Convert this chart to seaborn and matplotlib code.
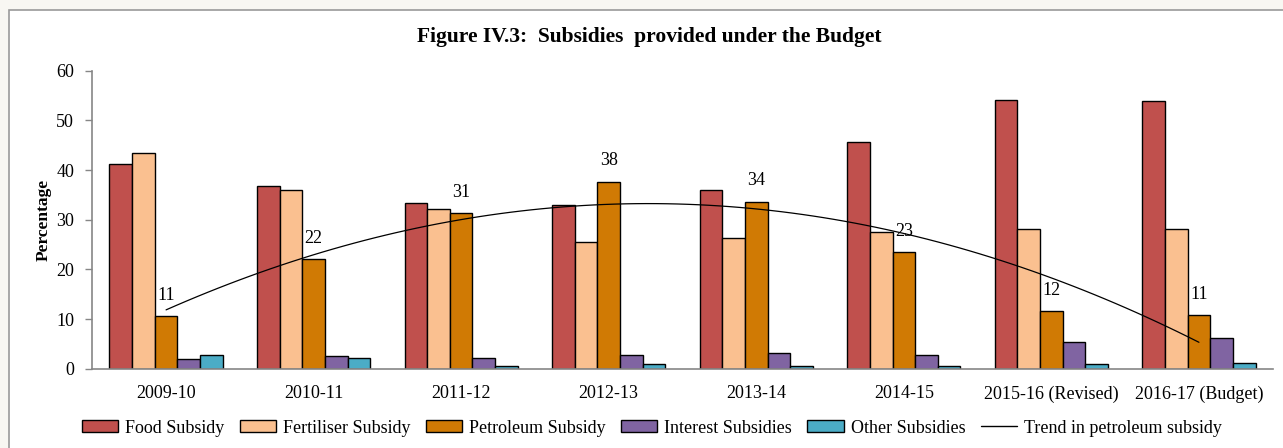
import matplotlib

matplotlib.use("Agg")

import matplotlib.pyplot as plt
import numpy as np
import pandas as pd
import seaborn as sns
from matplotlib.lines import Line2D
from matplotlib.patches import Patch, Rectangle

years = ["2009-10", "2010-11", "2011-12", "2012-13", "2013-14", "2014-15",
         "2015-16 (Revised)", "2016-17 (Budget)"]
series = ["Food Subsidy", "Fertiliser Subsidy", "Petroleum Subsidy",
          "Interest Subsidies", "Other Subsidies"]

food = [41.3, 36.8, 33.3, 33.0, 36.0, 45.6, 54.2, 54.0]
fertiliser = [43.4, 36.0, 32.2, 25.6, 26.4, 27.5, 28.1, 28.1]
petroleum = [10.6, 22.0, 31.3, 37.6, 33.6, 23.4, 11.6, 10.8]
interest = [2.0, 2.5, 2.2, 2.8, 3.1, 2.8, 5.3, 6.1]
other = [2.8, 2.2, 0.6, 0.9, 0.6, 0.5, 0.9, 1.2]

colors = ["#C0504D", "#FAC090", "#D07A04", "#8064A2", "#4BACC6"]
trend_label = "Trend in petroleum subsidy"

df = pd.DataFrame({"year": years * 5,
                   "series": np.repeat(series, len(years)),
                   "share": food + fertiliser + petroleum + interest + other})

sns.set_theme(style="white")
plt.rcParams["font.family"] = ["Liberation Serif", "DejaVu Serif"]
plt.rcParams.update({"text.color": "black", "axes.labelcolor": "black"})

fig = plt.figure(figsize=(12.83, 4.48), dpi=100, facecolor="#f8f7f2")
fig.patches.append(Rectangle((9 / 1283, -0.05), 1.0, 1 - 10 / 448 + 0.05,
                             transform=fig.transFigure, facecolor="white",
                             edgecolor="#9a9a9a", linewidth=1.2, zorder=-10))
ax = fig.add_axes([92.3 / 1283, 1 - 368.7 / 448, (1272.7 - 92.3) / 1283, 298 / 448])
ax.set_facecolor("none")

sns.barplot(data=df, x="year", y="share", hue="series", hue_order=series,
            order=years, palette=colors, saturation=1, width=0.767,
            edgecolor="black", linewidth=1, legend=False, ax=ax)

ax.bar_label(ax.containers[2], labels=[f"{v:.0f}" for v in petroleum],
             padding=9, fontsize=13)

sns.regplot(x=np.arange(len(years)), y=np.array(petroleum), order=2, ci=None,
            scatter=False, color="black", line_kws={"lw": 0.9}, ax=ax)

ax.set_xlim(-0.5, len(years) - 0.5)
ax.set_ylim(0, 60)
ax.set_yticks(range(0, 61, 10))
ax.set_xlabel("")
ax.set_ylabel("Percentage", fontsize=12.5, fontweight="bold", labelpad=3)

for side in ["top", "right"]:
    ax.spines[side].set_visible(False)
for side in ["left", "bottom"]:
    ax.spines[side].set_color("#868686")
    ax.spines[side].set_linewidth(1.2)

ax.set_xticks(np.arange(-0.5, len(years)), minor=True)
ax.tick_params(axis="x", which="major", length=0, pad=12, labelsize=13, labelcolor="black")
ax.tick_params(axis="x", which="minor", length=5, width=1, color="#868686", direction="out")
ax.tick_params(axis="y", length=5, width=1, color="#868686", direction="out",
               pad=8, labelsize=13, labelcolor="black", left=True)

fig.text(0.506, 1 - 37 / 448, "Figure IV.3:  Subsidies  provided under the Budget",
         ha="center", va="center", fontsize=15.5, fontweight="bold")

handles = [Patch(facecolor=c, edgecolor="black", linewidth=1) for c in colors]
handles.append(Line2D([0], [0], color="black", lw=1))
fig.legend(handles, series + [trend_label], loc="center",
           bbox_to_anchor=(0.508, 1 - 428 / 448), ncol=6, frameon=False,
           fontsize=13, handlelength=2.0, handleheight=0.6, handletextpad=0.4,
           columnspacing=0.85)

fig.savefig("out.png", dpi=100, facecolor=fig.get_facecolor())
